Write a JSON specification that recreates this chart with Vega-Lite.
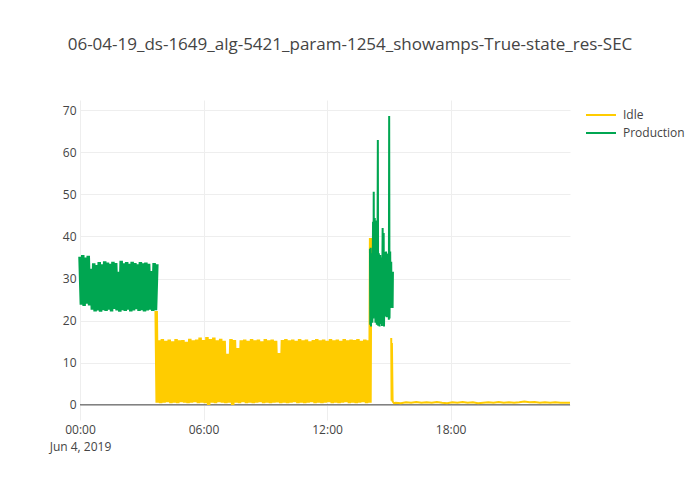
{
  "$schema": "https://vega.github.io/schema/vega-lite/v6.json",
  "width": 490,
  "height": 320,
  "autosize": "none",
  "padding": {"left": 80, "top": 100, "right": 130, "bottom": 80},
  "background": "white",
  "config": {
    "font": "Open Sans",
    "view": {"stroke": null},
    "title": {"font": "Open Sans", "fontSize": 17, "fontWeight": "normal", "color": "#444"}
  },
  "title": {"text": "06-04-19_ds-1649_alg-5421_param-1254_showamps-True-state_res-SEC", "anchor": "middle", "dx": 25, "offset": 33, "baseline": "alphabetic"},
  "layer": [
    {
      "data": {"values": [{"z": 0}]},
      "mark": {"type": "rule", "color": "#444", "strokeWidth": 1},
      "encoding": {"y": {"field": "z", "type": "quantitative"}}
    },
    {
      "data": {"values": [
        {"t":"2019-06-04T03:42","v":22.3,"s":"Idle","g":1},
        {"t":"2019-06-04T03:45","v":0.5,"s":"Idle","g":1},
        {"t":"2019-06-04T03:50","v":15.3,"s":"Idle","g":1},
        {"t":"2019-06-04T03:55","v":0.4,"s":"Idle","g":1},
        {"t":"2019-06-04T04:00","v":15.6,"s":"Idle","g":1},
        {"t":"2019-06-04T04:05","v":0.5,"s":"Idle","g":1},
        {"t":"2019-06-04T04:10","v":15.2,"s":"Idle","g":1},
        {"t":"2019-06-04T04:15","v":0.6,"s":"Idle","g":1},
        {"t":"2019-06-04T04:20","v":15.5,"s":"Idle","g":1},
        {"t":"2019-06-04T04:25","v":0.4,"s":"Idle","g":1},
        {"t":"2019-06-04T04:30","v":15.1,"s":"Idle","g":1},
        {"t":"2019-06-04T04:35","v":0.5,"s":"Idle","g":1},
        {"t":"2019-06-04T04:40","v":15.6,"s":"Idle","g":1},
        {"t":"2019-06-04T04:45","v":0.4,"s":"Idle","g":1},
        {"t":"2019-06-04T04:50","v":15.3,"s":"Idle","g":1},
        {"t":"2019-06-04T04:55","v":0.6,"s":"Idle","g":1},
        {"t":"2019-06-04T05:00","v":15.4,"s":"Idle","g":1},
        {"t":"2019-06-04T05:05","v":0.5,"s":"Idle","g":1},
        {"t":"2019-06-04T05:10","v":15.0,"s":"Idle","g":1},
        {"t":"2019-06-04T05:15","v":0.4,"s":"Idle","g":1},
        {"t":"2019-06-04T05:20","v":15.7,"s":"Idle","g":1},
        {"t":"2019-06-04T05:25","v":0.5,"s":"Idle","g":1},
        {"t":"2019-06-04T05:30","v":15.3,"s":"Idle","g":1},
        {"t":"2019-06-04T05:35","v":0.6,"s":"Idle","g":1},
        {"t":"2019-06-04T05:40","v":15.5,"s":"Idle","g":1},
        {"t":"2019-06-04T05:45","v":0.4,"s":"Idle","g":1},
        {"t":"2019-06-04T05:50","v":16.0,"s":"Idle","g":1},
        {"t":"2019-06-04T05:55","v":0.5,"s":"Idle","g":1},
        {"t":"2019-06-04T06:00","v":15.4,"s":"Idle","g":1},
        {"t":"2019-06-04T06:05","v":0.4,"s":"Idle","g":1},
        {"t":"2019-06-04T06:10","v":16.1,"s":"Idle","g":1},
        {"t":"2019-06-04T06:15","v":0.0,"s":"Idle","g":1},
        {"t":"2019-06-04T06:20","v":15.6,"s":"Idle","g":1},
        {"t":"2019-06-04T06:25","v":0.5,"s":"Idle","g":1},
        {"t":"2019-06-04T06:30","v":16.0,"s":"Idle","g":1},
        {"t":"2019-06-04T06:35","v":0.4,"s":"Idle","g":1},
        {"t":"2019-06-04T06:40","v":15.3,"s":"Idle","g":1},
        {"t":"2019-06-04T06:45","v":0.6,"s":"Idle","g":1},
        {"t":"2019-06-04T06:50","v":15.7,"s":"Idle","g":1},
        {"t":"2019-06-04T06:55","v":0.5,"s":"Idle","g":1},
        {"t":"2019-06-04T07:00","v":15.2,"s":"Idle","g":1},
        {"t":"2019-06-04T07:05","v":0.4,"s":"Idle","g":1},
        {"t":"2019-06-04T07:10","v":12.1,"s":"Idle","g":1},
        {"t":"2019-06-04T07:15","v":0.5,"s":"Idle","g":1},
        {"t":"2019-06-04T07:20","v":15.6,"s":"Idle","g":1},
        {"t":"2019-06-04T07:25","v":0.0,"s":"Idle","g":1},
        {"t":"2019-06-04T07:30","v":15.4,"s":"Idle","g":1},
        {"t":"2019-06-04T07:35","v":0.5,"s":"Idle","g":1},
        {"t":"2019-06-04T07:40","v":13.5,"s":"Idle","g":1},
        {"t":"2019-06-04T07:45","v":0.4,"s":"Idle","g":1},
        {"t":"2019-06-04T07:50","v":15.3,"s":"Idle","g":1},
        {"t":"2019-06-04T07:55","v":0.6,"s":"Idle","g":1},
        {"t":"2019-06-04T08:00","v":15.5,"s":"Idle","g":1},
        {"t":"2019-06-04T08:05","v":0.4,"s":"Idle","g":1},
        {"t":"2019-06-04T08:10","v":15.2,"s":"Idle","g":1},
        {"t":"2019-06-04T08:15","v":0.5,"s":"Idle","g":1},
        {"t":"2019-06-04T08:20","v":15.6,"s":"Idle","g":1},
        {"t":"2019-06-04T08:25","v":0.4,"s":"Idle","g":1},
        {"t":"2019-06-04T08:30","v":15.3,"s":"Idle","g":1},
        {"t":"2019-06-04T08:35","v":0.5,"s":"Idle","g":1},
        {"t":"2019-06-04T08:40","v":15.5,"s":"Idle","g":1},
        {"t":"2019-06-04T08:45","v":0.6,"s":"Idle","g":1},
        {"t":"2019-06-04T08:50","v":15.1,"s":"Idle","g":1},
        {"t":"2019-06-04T08:55","v":0.4,"s":"Idle","g":1},
        {"t":"2019-06-04T09:00","v":15.6,"s":"Idle","g":1},
        {"t":"2019-06-04T09:05","v":0.5,"s":"Idle","g":1},
        {"t":"2019-06-04T09:10","v":15.3,"s":"Idle","g":1},
        {"t":"2019-06-04T09:15","v":0.4,"s":"Idle","g":1},
        {"t":"2019-06-04T09:20","v":15.5,"s":"Idle","g":1},
        {"t":"2019-06-04T09:25","v":0.5,"s":"Idle","g":1},
        {"t":"2019-06-04T09:30","v":15.2,"s":"Idle","g":1},
        {"t":"2019-06-04T09:35","v":0.6,"s":"Idle","g":1},
        {"t":"2019-06-04T09:40","v":12.3,"s":"Idle","g":1},
        {"t":"2019-06-04T09:45","v":0.4,"s":"Idle","g":1},
        {"t":"2019-06-04T09:50","v":15.4,"s":"Idle","g":1},
        {"t":"2019-06-04T09:55","v":0.5,"s":"Idle","g":1},
        {"t":"2019-06-04T10:00","v":15.6,"s":"Idle","g":1},
        {"t":"2019-06-04T10:05","v":0.4,"s":"Idle","g":1},
        {"t":"2019-06-04T10:10","v":15.3,"s":"Idle","g":1},
        {"t":"2019-06-04T10:15","v":0.5,"s":"Idle","g":1},
        {"t":"2019-06-04T10:20","v":15.5,"s":"Idle","g":1},
        {"t":"2019-06-04T10:25","v":0.6,"s":"Idle","g":1},
        {"t":"2019-06-04T10:30","v":15.2,"s":"Idle","g":1},
        {"t":"2019-06-04T10:35","v":0.4,"s":"Idle","g":1},
        {"t":"2019-06-04T10:40","v":15.6,"s":"Idle","g":1},
        {"t":"2019-06-04T10:45","v":0.5,"s":"Idle","g":1},
        {"t":"2019-06-04T10:50","v":15.3,"s":"Idle","g":1},
        {"t":"2019-06-04T10:55","v":0.4,"s":"Idle","g":1},
        {"t":"2019-06-04T11:00","v":15.5,"s":"Idle","g":1},
        {"t":"2019-06-04T11:05","v":0.5,"s":"Idle","g":1},
        {"t":"2019-06-04T11:10","v":15.1,"s":"Idle","g":1},
        {"t":"2019-06-04T11:15","v":0.6,"s":"Idle","g":1},
        {"t":"2019-06-04T11:20","v":15.4,"s":"Idle","g":1},
        {"t":"2019-06-04T11:25","v":0.4,"s":"Idle","g":1},
        {"t":"2019-06-04T11:30","v":15.6,"s":"Idle","g":1},
        {"t":"2019-06-04T11:35","v":0.5,"s":"Idle","g":1},
        {"t":"2019-06-04T11:40","v":15.3,"s":"Idle","g":1},
        {"t":"2019-06-04T11:45","v":0.4,"s":"Idle","g":1},
        {"t":"2019-06-04T11:50","v":15.5,"s":"Idle","g":1},
        {"t":"2019-06-04T11:55","v":0.5,"s":"Idle","g":1},
        {"t":"2019-06-04T12:00","v":15.2,"s":"Idle","g":1},
        {"t":"2019-06-04T12:05","v":0.6,"s":"Idle","g":1},
        {"t":"2019-06-04T12:10","v":15.6,"s":"Idle","g":1},
        {"t":"2019-06-04T12:15","v":0.4,"s":"Idle","g":1},
        {"t":"2019-06-04T12:20","v":15.3,"s":"Idle","g":1},
        {"t":"2019-06-04T12:25","v":0.5,"s":"Idle","g":1},
        {"t":"2019-06-04T12:30","v":15.5,"s":"Idle","g":1},
        {"t":"2019-06-04T12:35","v":0.4,"s":"Idle","g":1},
        {"t":"2019-06-04T12:40","v":15.2,"s":"Idle","g":1},
        {"t":"2019-06-04T12:45","v":0.5,"s":"Idle","g":1},
        {"t":"2019-06-04T12:50","v":15.6,"s":"Idle","g":1},
        {"t":"2019-06-04T12:55","v":0.6,"s":"Idle","g":1},
        {"t":"2019-06-04T13:00","v":15.3,"s":"Idle","g":1},
        {"t":"2019-06-04T13:05","v":0.4,"s":"Idle","g":1},
        {"t":"2019-06-04T13:10","v":15.5,"s":"Idle","g":1},
        {"t":"2019-06-04T13:15","v":0.5,"s":"Idle","g":1},
        {"t":"2019-06-04T13:20","v":15.4,"s":"Idle","g":1},
        {"t":"2019-06-04T13:25","v":0.4,"s":"Idle","g":1},
        {"t":"2019-06-04T13:30","v":15.6,"s":"Idle","g":1},
        {"t":"2019-06-04T13:35","v":0.5,"s":"Idle","g":1},
        {"t":"2019-06-04T13:40","v":15.2,"s":"Idle","g":1},
        {"t":"2019-06-04T13:45","v":0.6,"s":"Idle","g":1},
        {"t":"2019-06-04T13:50","v":15.5,"s":"Idle","g":1},
        {"t":"2019-06-04T13:55","v":0.4,"s":"Idle","g":1},
        {"t":"2019-06-04T14:00","v":15.3,"s":"Idle","g":1},
        {"t":"2019-06-04T14:05","v":0.5,"s":"Idle","g":1},
        {"t":"2019-06-04T14:07","v":39.6,"s":"Idle","g":1},
        {"t":"2019-06-04T14:09","v":22.0,"s":"Idle","g":1},
        {"t":"2019-06-04T15:07","v":15.9,"s":"Idle","g":2},
        {"t":"2019-06-04T15:08","v":1.0,"s":"Idle","g":2},
        {"t":"2019-06-04T15:09","v":14.7,"s":"Idle","g":2},
        {"t":"2019-06-04T15:11","v":0.8,"s":"Idle","g":2},
        {"t":"2019-06-04T15:15","v":0.4,"s":"Idle","g":2},
        {"t":"2019-06-04T15:20","v":0.5,"s":"Idle","g":2},
        {"t":"2019-06-04T15:35","v":0.4,"s":"Idle","g":2},
        {"t":"2019-06-04T15:50","v":0.6,"s":"Idle","g":2},
        {"t":"2019-06-04T16:05","v":0.5,"s":"Idle","g":2},
        {"t":"2019-06-04T16:20","v":0.7,"s":"Idle","g":2},
        {"t":"2019-06-04T16:35","v":0.5,"s":"Idle","g":2},
        {"t":"2019-06-04T16:50","v":0.6,"s":"Idle","g":2},
        {"t":"2019-06-04T17:05","v":0.5,"s":"Idle","g":2},
        {"t":"2019-06-04T17:20","v":0.7,"s":"Idle","g":2},
        {"t":"2019-06-04T17:35","v":0.5,"s":"Idle","g":2},
        {"t":"2019-06-04T17:50","v":0.4,"s":"Idle","g":2},
        {"t":"2019-06-04T18:05","v":0.6,"s":"Idle","g":2},
        {"t":"2019-06-04T18:20","v":0.5,"s":"Idle","g":2},
        {"t":"2019-06-04T18:35","v":0.7,"s":"Idle","g":2},
        {"t":"2019-06-04T18:50","v":0.5,"s":"Idle","g":2},
        {"t":"2019-06-04T19:05","v":0.6,"s":"Idle","g":2},
        {"t":"2019-06-04T19:20","v":0.4,"s":"Idle","g":2},
        {"t":"2019-06-04T19:35","v":0.5,"s":"Idle","g":2},
        {"t":"2019-06-04T19:50","v":0.6,"s":"Idle","g":2},
        {"t":"2019-06-04T20:05","v":0.5,"s":"Idle","g":2},
        {"t":"2019-06-04T20:20","v":0.7,"s":"Idle","g":2},
        {"t":"2019-06-04T20:35","v":0.5,"s":"Idle","g":2},
        {"t":"2019-06-04T20:50","v":0.6,"s":"Idle","g":2},
        {"t":"2019-06-04T21:05","v":0.5,"s":"Idle","g":2},
        {"t":"2019-06-04T21:20","v":0.6,"s":"Idle","g":2},
        {"t":"2019-06-04T21:35","v":0.8,"s":"Idle","g":2},
        {"t":"2019-06-04T21:50","v":0.6,"s":"Idle","g":2},
        {"t":"2019-06-04T22:05","v":0.7,"s":"Idle","g":2},
        {"t":"2019-06-04T22:20","v":0.5,"s":"Idle","g":2},
        {"t":"2019-06-04T22:35","v":0.6,"s":"Idle","g":2},
        {"t":"2019-06-04T22:50","v":0.5,"s":"Idle","g":2},
        {"t":"2019-06-04T23:05","v":0.6,"s":"Idle","g":2},
        {"t":"2019-06-04T23:20","v":0.5,"s":"Idle","g":2},
        {"t":"2019-06-04T23:35","v":0.5,"s":"Idle","g":2},
        {"t":"2019-06-04T23:48","v":0.5,"s":"Idle","g":2},
        {"t":"2019-06-04T00:00","v":35.2,"s":"Production","g":1},
        {"t":"2019-06-04T00:04","v":23.8,"s":"Production","g":1},
        {"t":"2019-06-04T00:08","v":35.6,"s":"Production","g":1},
        {"t":"2019-06-04T00:12","v":23.5,"s":"Production","g":1},
        {"t":"2019-06-04T00:16","v":35.0,"s":"Production","g":1},
        {"t":"2019-06-04T00:20","v":24.0,"s":"Production","g":1},
        {"t":"2019-06-04T00:24","v":35.4,"s":"Production","g":1},
        {"t":"2019-06-04T00:28","v":23.6,"s":"Production","g":1},
        {"t":"2019-06-04T00:32","v":32.3,"s":"Production","g":1},
        {"t":"2019-06-04T00:36","v":22.6,"s":"Production","g":1},
        {"t":"2019-06-04T00:40","v":33.6,"s":"Production","g":1},
        {"t":"2019-06-04T00:44","v":22.2,"s":"Production","g":1},
        {"t":"2019-06-04T00:48","v":33.2,"s":"Production","g":1},
        {"t":"2019-06-04T00:52","v":22.4,"s":"Production","g":1},
        {"t":"2019-06-04T00:56","v":33.9,"s":"Production","g":1},
        {"t":"2019-06-04T01:00","v":22.1,"s":"Production","g":1},
        {"t":"2019-06-04T01:04","v":33.4,"s":"Production","g":1},
        {"t":"2019-06-04T01:08","v":22.5,"s":"Production","g":1},
        {"t":"2019-06-04T01:12","v":34.1,"s":"Production","g":1},
        {"t":"2019-06-04T01:16","v":22.3,"s":"Production","g":1},
        {"t":"2019-06-04T01:20","v":33.8,"s":"Production","g":1},
        {"t":"2019-06-04T01:24","v":22.6,"s":"Production","g":1},
        {"t":"2019-06-04T01:28","v":33.5,"s":"Production","g":1},
        {"t":"2019-06-04T01:32","v":22.2,"s":"Production","g":1},
        {"t":"2019-06-04T01:36","v":34.0,"s":"Production","g":1},
        {"t":"2019-06-04T01:40","v":22.8,"s":"Production","g":1},
        {"t":"2019-06-04T01:44","v":33.7,"s":"Production","g":1},
        {"t":"2019-06-04T01:48","v":22.4,"s":"Production","g":1},
        {"t":"2019-06-04T01:52","v":31.6,"s":"Production","g":1},
        {"t":"2019-06-04T01:56","v":22.1,"s":"Production","g":1},
        {"t":"2019-06-04T02:00","v":34.2,"s":"Production","g":1},
        {"t":"2019-06-04T02:04","v":22.5,"s":"Production","g":1},
        {"t":"2019-06-04T02:08","v":33.6,"s":"Production","g":1},
        {"t":"2019-06-04T02:12","v":22.3,"s":"Production","g":1},
        {"t":"2019-06-04T02:16","v":33.9,"s":"Production","g":1},
        {"t":"2019-06-04T02:20","v":22.6,"s":"Production","g":1},
        {"t":"2019-06-04T02:24","v":33.5,"s":"Production","g":1},
        {"t":"2019-06-04T02:28","v":22.2,"s":"Production","g":1},
        {"t":"2019-06-04T02:32","v":34.0,"s":"Production","g":1},
        {"t":"2019-06-04T02:36","v":22.4,"s":"Production","g":1},
        {"t":"2019-06-04T02:40","v":33.7,"s":"Production","g":1},
        {"t":"2019-06-04T02:44","v":22.7,"s":"Production","g":1},
        {"t":"2019-06-04T02:48","v":33.4,"s":"Production","g":1},
        {"t":"2019-06-04T02:52","v":22.3,"s":"Production","g":1},
        {"t":"2019-06-04T02:56","v":33.9,"s":"Production","g":1},
        {"t":"2019-06-04T03:00","v":22.5,"s":"Production","g":1},
        {"t":"2019-06-04T03:04","v":33.6,"s":"Production","g":1},
        {"t":"2019-06-04T03:08","v":22.2,"s":"Production","g":1},
        {"t":"2019-06-04T03:12","v":33.8,"s":"Production","g":1},
        {"t":"2019-06-04T03:16","v":22.4,"s":"Production","g":1},
        {"t":"2019-06-04T03:20","v":33.5,"s":"Production","g":1},
        {"t":"2019-06-04T03:24","v":22.6,"s":"Production","g":1},
        {"t":"2019-06-04T03:28","v":31.8,"s":"Production","g":1},
        {"t":"2019-06-04T03:32","v":22.3,"s":"Production","g":1},
        {"t":"2019-06-04T03:36","v":33.7,"s":"Production","g":1},
        {"t":"2019-06-04T03:40","v":22.5,"s":"Production","g":1},
        {"t":"2019-06-04T03:44","v":33.4,"s":"Production","g":1},
        {"t":"2019-06-04T14:05","v":37.0,"s":"Production","g":2},
        {"t":"2019-06-04T14:06","v":19.0,"s":"Production","g":2},
        {"t":"2019-06-04T14:07","v":37.3,"s":"Production","g":2},
        {"t":"2019-06-04T14:08","v":18.6,"s":"Production","g":2},
        {"t":"2019-06-04T14:10","v":36.0,"s":"Production","g":2},
        {"t":"2019-06-04T14:12","v":19.5,"s":"Production","g":2},
        {"t":"2019-06-04T14:14","v":43.5,"s":"Production","g":2},
        {"t":"2019-06-04T14:15","v":20.5,"s":"Production","g":2},
        {"t":"2019-06-04T14:16","v":50.6,"s":"Production","g":2},
        {"t":"2019-06-04T14:17","v":21.0,"s":"Production","g":2},
        {"t":"2019-06-04T14:19","v":44.4,"s":"Production","g":2},
        {"t":"2019-06-04T14:21","v":19.5,"s":"Production","g":2},
        {"t":"2019-06-04T14:23","v":43.8,"s":"Production","g":2},
        {"t":"2019-06-04T14:25","v":19.0,"s":"Production","g":2},
        {"t":"2019-06-04T14:27","v":35.0,"s":"Production","g":2},
        {"t":"2019-06-04T14:28","v":62.9,"s":"Production","g":2},
        {"t":"2019-06-04T14:29","v":18.8,"s":"Production","g":2},
        {"t":"2019-06-04T14:31","v":36.0,"s":"Production","g":2},
        {"t":"2019-06-04T14:33","v":18.6,"s":"Production","g":2},
        {"t":"2019-06-04T14:35","v":35.6,"s":"Production","g":2},
        {"t":"2019-06-04T14:37","v":19.2,"s":"Production","g":2},
        {"t":"2019-06-04T14:39","v":35.0,"s":"Production","g":2},
        {"t":"2019-06-04T14:40","v":18.7,"s":"Production","g":2},
        {"t":"2019-06-04T14:42","v":42.0,"s":"Production","g":2},
        {"t":"2019-06-04T14:43","v":19.5,"s":"Production","g":2},
        {"t":"2019-06-04T14:45","v":40.8,"s":"Production","g":2},
        {"t":"2019-06-04T14:46","v":18.6,"s":"Production","g":2},
        {"t":"2019-06-04T14:48","v":36.3,"s":"Production","g":2},
        {"t":"2019-06-04T14:50","v":21.0,"s":"Production","g":2},
        {"t":"2019-06-04T14:52","v":36.4,"s":"Production","g":2},
        {"t":"2019-06-04T14:54","v":20.8,"s":"Production","g":2},
        {"t":"2019-06-04T14:56","v":35.8,"s":"Production","g":2},
        {"t":"2019-06-04T14:58","v":21.2,"s":"Production","g":2},
        {"t":"2019-06-04T14:59","v":36.0,"s":"Production","g":2},
        {"t":"2019-06-04T15:00","v":20.2,"s":"Production","g":2},
        {"t":"2019-06-04T15:01","v":68.6,"s":"Production","g":2},
        {"t":"2019-06-04T15:02","v":20.5,"s":"Production","g":2},
        {"t":"2019-06-04T15:04","v":36.4,"s":"Production","g":2},
        {"t":"2019-06-04T15:05","v":23.0,"s":"Production","g":2},
        {"t":"2019-06-04T15:07","v":34.0,"s":"Production","g":2},
        {"t":"2019-06-04T15:08","v":23.2,"s":"Production","g":2},
        {"t":"2019-06-04T15:10","v":31.6,"s":"Production","g":2},
        {"t":"2019-06-04T15:11","v":23.0,"s":"Production","g":2},
        {"t":"2019-06-04T15:12","v":31.6,"s":"Production","g":2}
      ]},
      "mark": {"type": "line", "interpolate": "linear"},
      "encoding": {
        "x": {
          "field": "t", "type": "temporal",
          "axis": {
            "title": null, "domain": false, "ticks": false, "grid": true, "gridColor": "#eeeeee",
            "values": [
              {"year": 2019, "month": 6, "date": 4, "hours": 0},
              {"year": 2019, "month": 6, "date": 4, "hours": 6},
              {"year": 2019, "month": 6, "date": 4, "hours": 12},
              {"year": 2019, "month": 6, "date": 4, "hours": 18}
            ],
            "labelExpr": "hours(datum.value) == 0 ? ['00:00', 'Jun 4, 2019'] : timeFormat(datum.value, '%H:%M')",
            "labelFlush": false, "labelFont": "Open Sans", "labelFontSize": 12, "labelColor": "#444",
            "labelPadding": 4, "labelLineHeight": 17
          }
        },
        "y": {
          "field": "v", "type": "quantitative",
          "scale": {"domain": [-3.6, 72.4], "nice": false, "zero": false},
          "axis": {
            "title": null, "domain": false, "ticks": false, "grid": true, "gridColor": "#eeeeee",
            "values": [0, 10, 20, 30, 40, 50, 60, 70],
            "labelFont": "Open Sans", "labelFontSize": 12, "labelColor": "#444", "labelPadding": 4
          }
        },
        "color": {
          "field": "s", "type": "nominal",
          "scale": {"domain": ["Idle", "Production"], "range": ["#ffcc00", "#00a651"]},
          "legend": {
            "title": null, "orient": "none", "legendX": 505, "legendY": 9,
            "symbolType": "stroke", "symbolStrokeWidth": 2, "symbolSize": 900,
            "clipHeight": 12, "rowPadding": 6, "labelOffset": 6,
            "labelFont": "Open Sans", "labelFontSize": 12, "labelColor": "#444"
          }
        },
        "strokeWidth": {"condition": {"test": "datum.g == 2", "value": 2}, "value": 3.5},
        "detail": {"field": "g", "type": "nominal"}
      }
    }
  ]
}
